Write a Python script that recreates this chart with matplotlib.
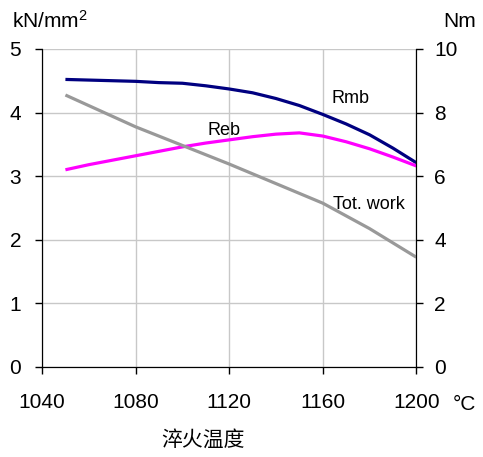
import matplotlib.pyplot as plt

plt.rcParams['font.family'] = ['Liberation Sans', 'Noto Sans CJK SC', 'DejaVu Sans']
plt.rcParams['mathtext.fontset'] = 'custom'
plt.rcParams['mathtext.rm'] = 'Liberation Sans'
plt.rcParams['mathtext.it'] = 'Liberation Sans'

temp = [1050, 1060, 1070, 1080, 1090, 1100, 1110, 1120, 1130, 1140, 1150, 1160, 1170, 1180, 1190, 1200]
rmb = [4.52, 4.51, 4.50, 4.49, 4.47, 4.46, 4.42, 4.37, 4.31, 4.22, 4.11, 3.97, 3.82, 3.65, 3.44, 3.21]
reb = [3.10, 3.18, 3.25, 3.32, 3.39, 3.46, 3.52, 3.57, 3.62, 3.66, 3.68, 3.63, 3.54, 3.43, 3.30, 3.16]
tot_temp = [1050, 1080, 1120, 1160, 1180, 1200]
tot_work = [8.55, 7.55, 6.38, 5.15, 4.35, 3.45]

fig = plt.figure(figsize=(4.83, 4.57), dpi=100)
ax = fig.add_axes([0.087, 0.197, 0.775, 0.696])
ax2 = ax.twinx()

ax.plot(temp, rmb, color='#000080', lw=2.3, solid_capstyle='butt')
ax.plot(temp, reb, color='#ff00ff', lw=2.3, solid_capstyle='butt')
ax2.plot(tot_temp, tot_work, color='#999999', lw=2.3, solid_capstyle='butt')

ax.set_xlim(1040, 1200)
ax.set_ylim(0, 5)
ax2.set_ylim(0, 10)
ax.set_xticks([1040, 1080, 1120, 1160, 1200])
ax.set_yticks([0, 1, 2, 3, 4, 5])
ax2.set_yticks([0, 2, 4, 6, 8, 10])
ax.grid(True, color='#c8c8c8', lw=1)
ax.set_axisbelow(True)

for a in (ax, ax2):
    a.spines['top'].set_visible(False)
    a.tick_params(labelsize=15, length=5, width=1)
ax.tick_params(axis='x', pad=14)
ax.tick_params(axis='y', pad=10)
ax2.tick_params(axis='y', pad=8)

# series labels
ax.text(1163.7, 4.15, 'Rmb', fontsize=13, ha='left', va='baseline')
ax.text(1110.8, 3.65, 'Reb', fontsize=13, ha='left', va='baseline')
ax.text(1164.2, 2.48, 'Tot. work', fontsize=13, ha='left', va='baseline')

fig.text(12 / 483, 1 - 28 / 457, r'kN/mm$^\mathrm{2}$', fontsize=15, va='baseline')
fig.text(443 / 483, 1 - 27 / 457, 'Nm', fontsize=15, va='baseline')
fig.text(453 / 483, 1 - 410 / 457, '°C', fontsize=15, va='baseline')
fig.text(203 / 483, 1 - 440 / 457, '淬火温度', fontsize=15, ha='center', va='center',
         family=['Noto Sans CJK SC'], weight='light')

fig.savefig('out.png', dpi=100)
